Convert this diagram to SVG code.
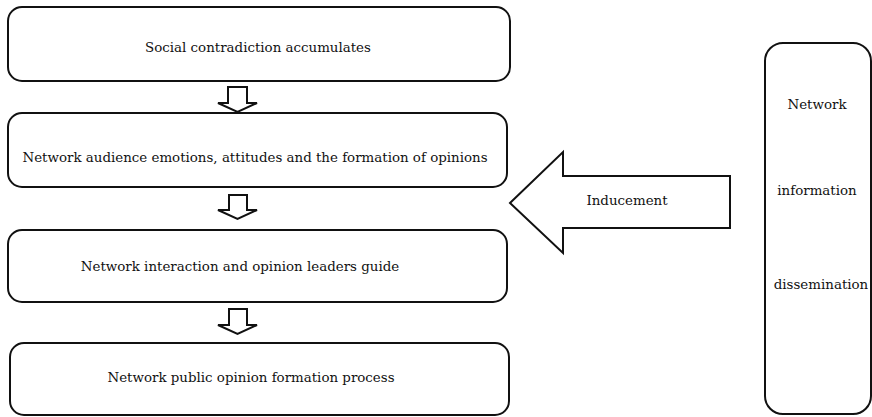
<svg xmlns="http://www.w3.org/2000/svg" width="872" height="417" viewBox="0 0 872 417">
<style>
.box{fill:#fff;stroke:#111;stroke-width:2}
.arr{fill:#fff;stroke:#111;stroke-width:2;stroke-linejoin:miter}
text{font-family:"DejaVu Serif","Liberation Serif",serif;font-size:13.4px;fill:#111;text-anchor:middle}
</style>
<rect width="872" height="417" fill="#fff"/>
<g id="n1"><rect class="box" x="8" y="7" width="502" height="74" rx="14"/><text x="258" y="52">Social contradiction accumulates</text></g>
<g id="n2"><rect class="box" x="8" y="113" width="499" height="74" rx="14"/><text x="255" y="162">Network audience emotions, attitudes and the formation of opinions</text></g>
<g id="n3"><rect class="box" x="8" y="230" width="499" height="72" rx="14"/><text x="240" y="271">Network interaction and opinion leaders guide</text></g>
<g id="n4"><rect class="box" x="10" y="343" width="499" height="72" rx="14"/><text x="251" y="382">Network public opinion formation process</text></g>
<g id="n5"><rect class="box" x="765" y="43" width="106" height="371" rx="18"/><text x="817" y="109">Network</text><text x="817" y="195">information</text><text x="821" y="289">dissemination</text></g>
<g id="connectors">
<path class="arr" d="M228,87 H247 V103 H257 L237.5,112 L218,103 H228 Z"/>
<path class="arr" d="M229,195 H247 V210 H257 L237.5,219 L218,210 H229 Z"/>
<path class="arr" d="M229,309 H247 V325 H257 L237.5,334 L218,325 H229 Z"/>
<path class="arr" d="M510,203 L563,152 V176 H730 V228 H563 V253 Z"/>
<text x="627" y="205">Inducement</text>
</g>
</svg>
